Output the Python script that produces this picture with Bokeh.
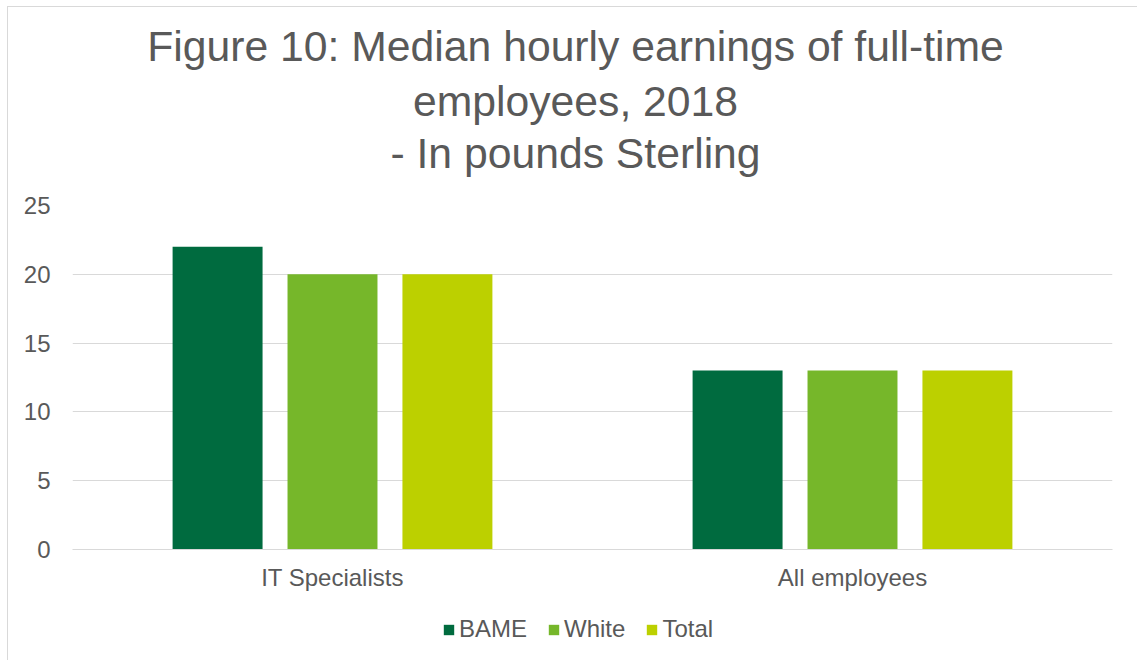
from bokeh.plotting import figure
from bokeh.layouts import column
from bokeh.models import (ColumnDataSource, FactorRange, Range1d, Title, Legend,
                          LegendItem, FixedTicker)
from bokeh.transform import dodge
from bokeh.embed import file_html
from bokeh.resources import INLINE

# ---- data ----
categories = ["IT Specialists", "All employees"]
bame = [22, 13]
white = [20, 13]
total = [20, 13]
series_names = ["BAME", "White", "Total"]
y_ticks = [0, 5, 10, 15, 20, 25]
title_lines = ["Figure 10: Median hourly earnings of full-time",
               "employees, 2018",
               "- In pounds Sterling"]

colors = ["#006B3F", "#76B72A", "#BCD000"]
FONT = "Liberation Sans"
TXT = "#595959"
GRID = "#D9D9D9"

source = ColumnDataSource(data=dict(cat=categories, BAME=bame, White=white, Total=total))

p = figure(x_range=FactorRange(*categories, range_padding=0),
           y_range=Range1d(0, 25),
           frame_width=1040, frame_height=344,
           min_border_left=64, min_border_right=25,
           min_border_top=0, min_border_bottom=45,
           output_backend="svg", toolbar_location=None, title=None)

# spacer between title and plot
p.add_layout(Title(text=" ", text_font_size="23px", standoff=0), "above")
# titles: add bottom line first (closest to plot)
for i, line in enumerate(reversed(title_lines)):
    t = Title(text=line, align="center", text_font=FONT, text_font_size="42.7px",
              text_color=TXT, text_font_style="normal", padding=(0, 34, 0, 0),
              standoff=(8 if i == 2 else 2))
    p.add_layout(t, "above")
# spacer on top
p.add_layout(Title(text=" ", text_font_size="6px", standoff=0), "above")

offsets = [-0.221, 0.0, 0.221]
for name, off, col in zip(series_names, offsets, colors):
    p.vbar(x=dodge("cat", off, range=p.x_range), top=name, width=0.173,
           source=source, fill_color=col, line_color=None)

# axes
p.yaxis.ticker = FixedTicker(ticks=y_ticks)
p.yaxis.axis_line_color = None
p.yaxis.major_tick_line_color = None
p.yaxis.minor_tick_line_color = None
p.yaxis.major_label_text_font = FONT
p.yaxis.major_label_text_font_size = "24px"
p.yaxis.major_label_text_color = TXT
p.yaxis.major_label_standoff = 16

p.xaxis.axis_line_color = GRID
p.xaxis.major_tick_line_color = None
p.xaxis.minor_tick_line_color = None
p.xaxis.major_label_text_font = FONT
p.xaxis.major_label_text_font_size = "24px"
p.xaxis.major_label_text_color = TXT
p.xaxis.major_label_standoff = 8

p.xgrid.grid_line_color = None
p.ygrid.grid_line_color = GRID
p.ygrid.grid_line_width = 1
p.outline_line_color = None

# ---- legend strip (second figure sharing the same series) ----
p2 = figure(x_range=p.x_range, y_range=Range1d(100, 101),
            frame_width=1040, frame_height=66,
            min_border_left=64, min_border_right=25,
            min_border_top=0, min_border_bottom=0,
            x_axis_location=None, y_axis_location=None,
            output_backend="svg", toolbar_location=None, title=None)
p2.grid.grid_line_color = None
p2.outline_line_color = None

leg_renderers = []
for name, off, col in zip(series_names, offsets, colors):
    r = p2.vbar(x=dodge("cat", off, range=p2.x_range), top=name, width=0.173,
                source=source, fill_color=col, line_color=None)
    leg_renderers.append(r)

legend = Legend(items=[LegendItem(label=n, renderers=[r]) for n, r in zip(series_names, leg_renderers)],
                orientation="horizontal", location=(370, 17),
                label_text_font=FONT, label_text_font_size="24px", label_text_color=TXT,
                glyph_width=13, glyph_height=13, label_standoff=4, spacing=20,
                border_line_color=None, background_fill_alpha=0,
                padding=0, margin=0)
p2.add_layout(legend, "center")

layout = column(p, p2, spacing=0,
                styles={"border-left": "1px solid #D9D9D9", "border-top": "1px solid #D9D9D9",
                        "margin-left": "7px", "margin-top": "6px"})

open("out.html", "w").write(file_html(layout, INLINE))
